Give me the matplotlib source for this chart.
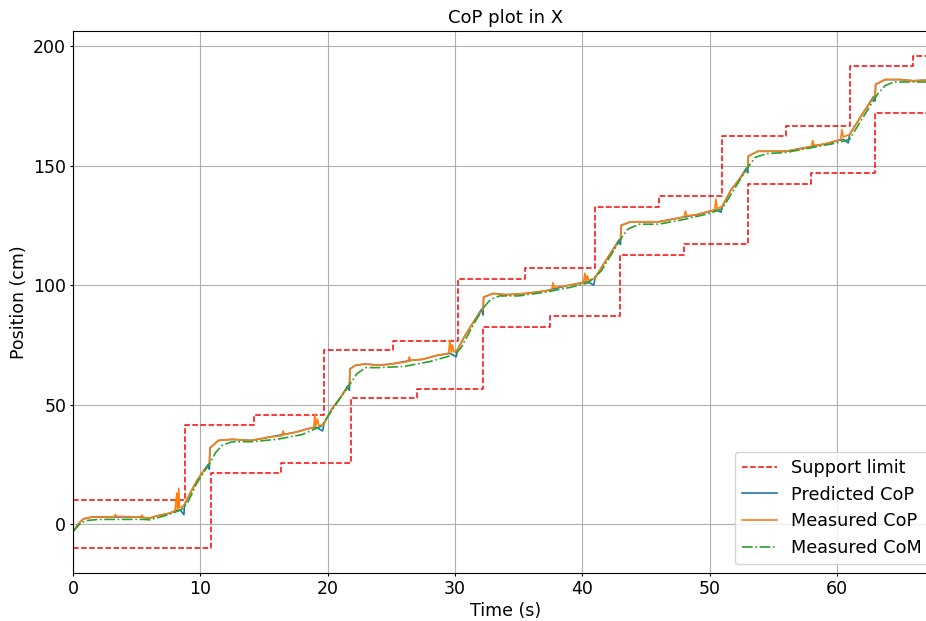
import numpy as np
import matplotlib
matplotlib.use('Agg')
import matplotlib.pyplot as plt

# Support limits (step functions, value holds until next time)
upper_t = [0, 8.8, 14.2, 19.7, 25.1, 30.2, 35.5, 41.0, 46.0, 51.0, 56.0, 61.0, 66.0, 68.0]
upper_y = [10, 41.3, 45.8, 72.8, 76.6, 102.5, 107.0, 132.5, 137.2, 162.2, 166.7, 191.7, 196.0, 196.0]
lower_t = [0, 10.8, 16.3, 21.8, 27.0, 32.2, 37.5, 43.0, 48.0, 53.0, 58.0, 63.0, 68.0]
lower_y = [-10, 21.5, 25.8, 52.8, 56.7, 82.6, 87.2, 112.6, 117.2, 142.2, 146.8, 172.0, 172.0]

# Measured CoP
cop_t = [0, 0.4, 0.8, 1.5, 3.2, 3.3, 3.4, 5.3, 5.4, 5.5, 6.0, 6.6, 7.5, 8.0, 8.15, 8.2, 8.3, 8.35, 8.5, 8.7,
         9.2, 9.7, 10.2, 10.7,
         10.75, 11.0, 11.4, 12.5, 14.0, 15.5, 16.4, 16.5, 16.6, 17.5, 18.5, 18.9, 19.0, 19.05, 19.2, 19.3, 19.7,
         20.3, 21.0, 21.7,
         21.75, 22.2, 23.0, 24.0, 25.0, 26.3, 26.4, 26.5, 27.5, 28.5, 29.5, 29.6, 29.7, 29.8, 29.9, 30.2,
         30.8, 31.5, 32.2,
         32.25, 33.0, 34.0, 35.5, 37.0, 37.6, 37.7, 37.8, 39.0, 40.1, 40.2, 40.3, 40.4, 40.5, 41.0,
         41.7, 42.3, 43.0,
         43.05, 43.8, 45.0, 46.0, 47.5, 48.0, 48.1, 48.2, 49.0, 50.0, 50.4, 50.5, 50.6, 51.0,
         51.7, 52.3, 53.0,
         53.05, 53.8, 55.0, 56.0, 57.5, 58.0, 58.1, 58.2, 59.0, 60.0, 60.3, 60.4, 60.5, 61.0,
         61.7, 62.3, 63.0,
         63.05, 63.8, 65.0, 66.0, 68.0]
cop_y = [-3, 0, 2.2, 3, 3, 4, 3.3, 3, 3.8, 2.8, 2.5, 3.5, 4.5, 5.5, 13, 6, 15, 7, 7, 8,
         13, 18, 22, 25,
         32, 33, 35, 35.5, 35, 36.5, 37, 39, 37.5, 38.5, 40, 40.5, 46, 41, 44, 41, 42,
         48, 53, 58,
         65, 66.5, 67, 66.5, 67, 68, 70, 68.5, 69, 70.5, 71.5, 77, 72, 75, 72, 73,
         79, 85, 90,
         95, 96.5, 96, 96.5, 97.5, 98, 101, 99, 100, 101, 105, 101.5, 104, 102, 103,
         109, 114, 119,
         125, 126.5, 126.5, 126.5, 128, 128.5, 131, 129, 129.5, 131, 131.5, 136, 132, 133,
         140, 144, 149,
         154, 156, 156, 156, 157.5, 158, 160.5, 158.5, 159, 160.5, 161, 165, 162, 163,
         169, 174, 179,
         184, 186, 186, 185.5, 186]

# Predicted CoP
pred_t = [0, 0.4, 0.8, 1.5, 3.2, 5.3, 6.0, 6.6, 7.5, 8.0, 8.4, 8.7, 8.75,
          9.2, 9.7, 10.2, 10.6, 10.7,
          10.75, 11.0, 11.4, 12.5, 14.0, 15.5, 17.5, 18.5, 19.1, 19.6, 19.7,
          20.3, 21.0, 21.6, 21.7,
          21.75, 22.2, 23.0, 24.0, 25.0, 26.5, 27.5, 28.5, 29.6, 30.1, 30.2,
          30.8, 31.5, 32.1, 32.2,
          32.25, 33.0, 34.0, 35.5, 37.0, 39.0, 40.4, 40.9, 41.0,
          41.7, 42.3, 42.9, 43.0,
          43.05, 43.8, 45.0, 46.0, 47.5, 49.0, 50.5, 50.9, 51.0,
          51.7, 52.3, 52.9, 53.0,
          53.05, 53.8, 55.0, 56.0, 57.5, 59.0, 60.5, 60.9, 61.0,
          61.7, 62.3, 62.9, 63.0,
          63.05, 63.8, 65.0, 66.0, 68.0]
pred_y = [-3, 0, 2.2, 3, 3, 3, 2.5, 3.5, 4.5, 5.5, 6, 4, 8,
          13, 18, 22, 25, 23,
          32, 33, 35, 35.5, 35, 36.5, 38.5, 40, 40.5, 39, 42,
          48, 53, 58, 56,
          65, 66.5, 67, 66.5, 67, 68.5, 69, 70.5, 71.5, 70, 73,
          79, 85, 90, 87.5,
          95, 96.5, 96, 96.5, 97.5, 100, 101.5, 100, 103,
          109, 114, 119, 117,
          125, 126.5, 126.5, 126.5, 128, 129.5, 131.5, 130.5, 133,
          140, 144, 149, 147,
          154, 156, 156, 156, 157.5, 159, 161, 159.5, 163,
          169, 174, 179, 177,
          184, 186, 186, 185.5, 186]

# Measured CoM
com_t = [0, 0.5, 1.0, 2.0, 4.0, 5.5, 6.0, 6.5, 7.5, 8.5, 9.0, 9.7, 10.3, 10.8, 11.2, 11.7, 12.5, 14.0,
         16.0, 18.0, 19.5, 20.0, 21.0, 21.8, 22.3, 23.0, 24.0, 26.0, 28.0, 30.0, 30.5, 31.5, 32.3,
         32.8, 33.5, 35.0, 37.0, 39.0, 40.5, 41.5, 42.3, 43.1, 43.6, 44.5, 46.0, 48.0, 50.0, 51.0,
         51.8, 52.5, 53.1, 53.6, 54.5, 56.0, 58.0, 60.0, 61.0, 61.8, 62.5, 63.2, 63.8, 64.5, 68.0]
com_y = [-3, 0, 1.5, 2, 2, 2, 1.8, 2.5, 4, 6, 9, 17, 22, 26, 30, 33, 34.5, 34.5,
         35.5, 37.5, 41, 45, 53, 59, 63, 65.5, 65.5, 66, 68, 71, 74, 84, 91,
         94, 95.5, 95.5, 97, 99, 101, 106, 113, 120, 123.5, 125.5, 125.5, 127.5, 130, 132,
         139, 145, 150, 153.5, 155, 155.5, 157.5, 159.5, 161, 168, 174, 180, 183.5, 185, 185]

fig = plt.figure(figsize=(9.26, 6.21), dpi=100)
# axes runs a little past the right edge of the picture, as in the reference
ax = fig.add_axes([0.079, 0.077, 0.934, 0.873])

ax.step(upper_t, upper_y, where='post', color='red', linestyle='--', linewidth=1.1, label='Support limit')
ax.step(lower_t, lower_y, where='post', color='red', linestyle='--', linewidth=1.1)
ax.plot(pred_t, pred_y, color='#1f77b4', linewidth=1.2, label='Predicted CoP')
ax.plot(cop_t, cop_y, color='#ff7f0e', linewidth=1.2, label='Measured CoP')
ax.plot(com_t, com_y, color='#2ca02c', linestyle='-.', linewidth=1.2, label='Measured CoM')

ax.set_xlim(0, 67.95)
ax.set_ylim(-20.5, 206.3)
ax.set_title('CoP plot in X', fontsize=13)
ax.set_xlabel('Time (s)', fontsize=12.5, labelpad=3)
ax.set_ylabel('Position (cm)', fontsize=12.5)
ax.tick_params(labelsize=12.5, length=2.5, pad=2.5)
ax.grid(True, color='#b0b0b0', linewidth=0.8)
ax.legend(loc='lower right', fontsize=12.7, borderaxespad=0.5)

fig.savefig('out.png', dpi=100)
